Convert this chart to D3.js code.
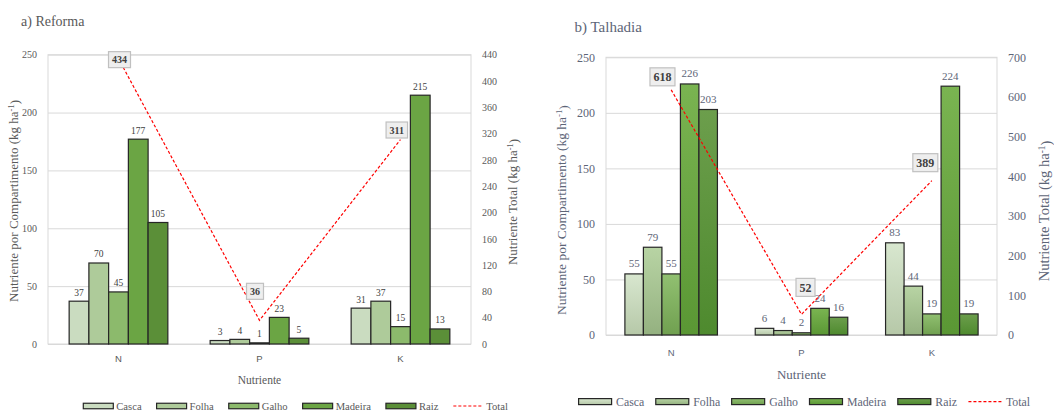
<!DOCTYPE html>
<html>
<head>
<meta charset="utf-8">
<script src="https://cdn.jsdelivr.net/npm/d3@7"></script>
<style>
  body { margin: 0; background: #fff; }
  svg { display: block; }
  svg text { font-family: 'Liberation Serif', 'DejaVu Serif', serif; }
  svg text.cat { font-family: 'Liberation Sans', 'DejaVu Sans', sans-serif; }
</style>
</head>
<body>
<div class="container"></div>
<script>
var nutrients = ['N', 'P', 'K'];
var compartments = ['Casca', 'Folha', 'Galho', 'Madeira', 'Raiz'];

// valores por nutriente (N, P, K), na ordem dos compartimentos
var reformaValues = [[37, 70, 45, 177, 105], [3, 4, 1, 23, 5], [31, 37, 15, 215, 13]];
var reformaTotal = [434, 36, 311];
var talhadiaValues = [[55, 79, 55, 226, 203], [6, 4, 2, 24, 16], [83, 44, 19, 224, 19]];
var talhadiaTotal = [618, 52, 389];

var compartTicks = [0, 50, 100, 150, 200, 250];
var reformaTotalTicks = [0, 40, 80, 120, 160, 200, 240, 280, 320, 360, 400, 440];
var talhadiaTotalTicks = [0, 100, 200, 300, 400, 500, 600, 700];

const WIDTH = 1054;
const HEIGHT = 412;
const SERIF = "'Liberation Serif', 'DejaVu Serif', serif";

var flatFill = ['#cadcc0', '#aecb9a', '#8cba6c', '#6ba544', '#5b8f38'];
var gradTop = ['#d8e7cf', '#b8d4a4', '#91c071', '#7ab451', '#6c9e4c'];
var gradBottom = ['#b6c8a8', '#94b180', '#70a050', '#5a9734', '#4e8a2e'];

var svg = d3.select('.container').append('svg')
    .attr('width', WIDTH)
    .attr('height', HEIGHT);

var defs = svg.append('defs');
compartments.forEach(function(c, i){
    var lg = defs.append('linearGradient')
        .attr('id', 'grad' + i)
        .attr('x1', 0).attr('y1', 0).attr('x2', 0).attr('y2', 1);
    lg.append('stop').attr('offset', '0%').attr('stop-color', gradTop[i]);
    lg.append('stop').attr('offset', '100%').attr('stop-color', gradBottom[i]);
});

var serifText = function(sel, size){
    return sel.attr('font-family', SERIF).style('font-family', SERIF).style('font-size', size + 'px');
};

var drawPanel = function(p){
    var g = svg.append('g');
    var W = p.right - p.left;

    var x0 = d3.scaleBand().domain(nutrients).range([p.left, p.right])
        .paddingInner(p.pad).paddingOuter(p.pad / 2);
    var x1 = d3.scaleBand().domain(compartments).range([0, x0.bandwidth()]);
    var y = d3.scaleLinear().domain([0, 250]).range([p.bottom, p.top]);
    var y2 = d3.scaleLinear().domain([0, p.totalMax]).range([p.bottom, p.top]);

    var fillFor = function(i){
        return p.gradient ? 'url(#grad' + i + ')' : flatFill[i];
    };

    // titulo
    serifText(g.append('text'), p.titleSize)
        .attr('x', p.titleX).attr('y', p.titleY)
        .attr('fill', p.textColor)
        .text(p.title);

    // eixo esquerdo + grade
    var leftAxis = g.append('g')
        .attr('transform', 'translate(' + p.left + ',0)')
        .call(d3.axisLeft(y).tickValues(compartTicks).tickSize(-W).tickPadding(11));
    leftAxis.attr('font-family', null);
    leftAxis.select('.domain').remove();
    leftAxis.selectAll('line').attr('stroke', '#d9d9d9');
    serifText(leftAxis.selectAll('text'), p.tickSize).attr('fill', p.textColor);

    g.append('rect')
        .attr('x', p.left).attr('y', p.top)
        .attr('width', W).attr('height', p.bottom - p.top)
        .attr('fill', 'none').attr('stroke', '#d9d9d9');

    // eixo direito
    var rightAxis = g.append('g')
        .attr('transform', 'translate(' + p.right + ',0)')
        .call(d3.axisRight(y2).tickValues(p.totalTicks).tickSize(0).tickPadding(11));
    rightAxis.attr('font-family', null);
    rightAxis.select('.domain').remove();
    serifText(rightAxis.selectAll('text'), p.tickSize).attr('fill', p.textColor);

    // eixo x
    var xAxis = g.append('g')
        .attr('transform', 'translate(0,' + p.bottom + ')')
        .call(d3.axisBottom(x0).tickSize(0).tickPadding(p.catPad));
    xAxis.attr('font-family', null);
    xAxis.select('.domain').remove();
    xAxis.selectAll('text')
        .attr('class', 'cat')
        .style('font-size', p.catSize + 'px')
        .attr('fill', p.textColor);

    // barras
    var groups = g.selectAll('.grp').data(p.values).enter().append('g')
        .attr('transform', function(d, i){ return 'translate(' + x0(nutrients[i]) + ',0)'; });

    groups.selectAll('rect').data(function(d){ return d; }).enter().append('rect')
        .attr('x', function(d, i){ return x1(compartments[i]); })
        .attr('y', function(d){ return y(d); })
        .attr('width', x1.bandwidth())
        .attr('height', function(d){ return p.bottom - y(d); })
        .attr('fill', function(d, i){ return fillFor(i); })
        .attr('stroke', '#262626')
        .attr('stroke-width', 1.2);

    serifText(groups.selectAll('.val').data(function(d){ return d; }).enter().append('text'), p.valSize)
        .attr('x', function(d, i){ return x1(compartments[i]) + x1.bandwidth() / 2; })
        .attr('y', function(d){ return y(d) - p.valGap; })
        .attr('text-anchor', 'middle')
        .attr('fill', p.valColor)
        .text(function(d){ return d; });

    // linha do total
    var line = d3.line()
        .x(function(d, i){ return x0(nutrients[i]) + x0.bandwidth() / 2; })
        .y(function(d){ return y2(d); });

    g.append('path')
        .attr('d', line(p.totals))
        .attr('fill', 'none')
        .attr('stroke', '#ff0000')
        .attr('stroke-width', 1.2)
        .attr('stroke-dasharray', '3,2');

    var boxes = g.selectAll('.tot').data(p.totals).enter().append('g')
        .attr('transform', function(d, i){
            var cx = x0(nutrients[i]) + x0.bandwidth() / 2 + p.boxShift[i][0];
            var cy = y2(d) + p.boxShift[i][1];
            return 'translate(' + cx + ',' + cy + ')';
        });
    boxes.append('rect')
        .attr('fill', '#eeeeee').attr('stroke', '#c0c0c0').attr('stroke-width', 1.2);
    serifText(boxes.append('text'), p.boxSize)
        .attr('text-anchor', 'middle')
        .attr('dy', '0.35em')
        .style('font-weight', 'bold')
        .attr('fill', '#404040')
        .text(function(d){ return d; });
    boxes.each(function(){
        var b = d3.select(this);
        var w = b.select('text').node().getComputedTextLength() + 7;
        var h = p.boxSize + 6;
        b.select('rect').attr('x', -w / 2).attr('y', -h / 2).attr('width', w).attr('height', h);
    });

    // titulos dos eixos
    serifText(g.append('text'), p.xTitleSize)
        .attr('x', (p.left + p.right) / 2).attr('y', p.xTitleY)
        .attr('text-anchor', 'middle').attr('dy', '0.35em')
        .attr('fill', p.textColor)
        .text('Nutriente');

    var yTitle = function(x, cy, label, size){
        var t = serifText(g.append('text'), size)
            .attr('transform', 'translate(' + x + ',' + cy + ') rotate(-90)')
            .attr('text-anchor', 'middle').attr('dy', '0.35em')
            .attr('fill', p.textColor);
        t.append('tspan').text(label + ' (kg ha');
        t.append('tspan').attr('dy', '-0.4em').style('font-size', (size * 0.65) + 'px').text('-1');
        t.append('tspan').attr('dy', '0.4em').text(')');
    };
    yTitle(p.yTitleLX, p.yTitleLY, 'Nutriente por Compartimento', p.yTitleSizeL);
    yTitle(p.yTitleRX, p.yTitleRY, 'Nutriente Total', p.yTitleSizeR);

    // legenda
    var leg = g.append('g').attr('transform', 'translate(0,' + p.legY + ')');
    var lx = p.legX;
    compartments.concat(['Total']).forEach(function(name, i){
        if (name === 'Total') {
            leg.append('line')
                .attr('x1', lx).attr('x2', lx + p.swW)
                .attr('y1', 0).attr('y2', 0)
                .attr('stroke', '#ff0000').attr('stroke-width', 1.2)
                .attr('stroke-dasharray', '3,2');
        } else {
            leg.append('rect')
                .attr('x', lx).attr('y', -p.swH / 2)
                .attr('width', p.swW).attr('height', p.swH)
                .attr('fill', fillFor(i))
                .attr('stroke', '#262626').attr('stroke-width', 1.2);
        }
        var t = serifText(leg.append('text'), p.legSize)
            .attr('x', lx + p.swW + p.swGap).attr('y', 0).attr('dy', '0.35em')
            .attr('fill', p.textColor)
            .text(name);
        lx += p.swW + p.swGap + t.node().getComputedTextLength() + p.itemGap;
    });
};

drawPanel({
    title: 'a) Reforma', titleX: 21, titleY: 26, titleSize: 14,
    values: reformaValues, totals: reformaTotal,
    totalMax: 440, totalTicks: reformaTotalTicks,
    left: 48, right: 471, top: 54.7, bottom: 344, pad: 0.3,
    gradient: false, textColor: '#595959', valColor: '#404040',
    tickSize: 10, catSize: 9.5, catPad: 11.5, valSize: 9.5, valGap: 5.5, boxSize: 10,
    boxShift: [[1, 1], [-4.5, -29], [-3.7, -9.5]],
    xTitleY: 379.5, xTitleSize: 11.5,
    yTitleLX: 13, yTitleLY: 201, yTitleSizeL: 13,
    yTitleRX: 512, yTitleRY: 202, yTitleSizeR: 13,
    legX: 83.3, legY: 406, swW: 30, swH: 5.5, swGap: 3, legSize: 10.6, itemGap: 15
});

drawPanel({
    title: 'b) Talhadia', titleX: 574.5, titleY: 32, titleSize: 15,
    values: talhadiaValues, totals: talhadiaTotal,
    totalMax: 700, totalTicks: talhadiaTotalTicks,
    left: 606, right: 997, top: 57.3, bottom: 335, pad: 0.29,
    gradient: true, textColor: '#5d6577', valColor: '#5d6577',
    tickSize: 12, catSize: 9.5, catPad: 14.5, valSize: 11, valGap: 6.5, boxSize: 12,
    boxShift: [[-8.7, -13], [4, -27], [-6.5, -18]],
    xTitleY: 374.5, xTitleSize: 13,
    yTitleLX: 561, yTitleLY: 210, yTitleSizeL: 13.5,
    yTitleRX: 1044, yTitleRY: 211, yTitleSizeR: 14.5,
    legX: 578.6, legY: 401.6, swW: 33, swH: 6, swGap: 4.5, legSize: 11.8, itemGap: 11.5
});
</script>
</body>
</html>
